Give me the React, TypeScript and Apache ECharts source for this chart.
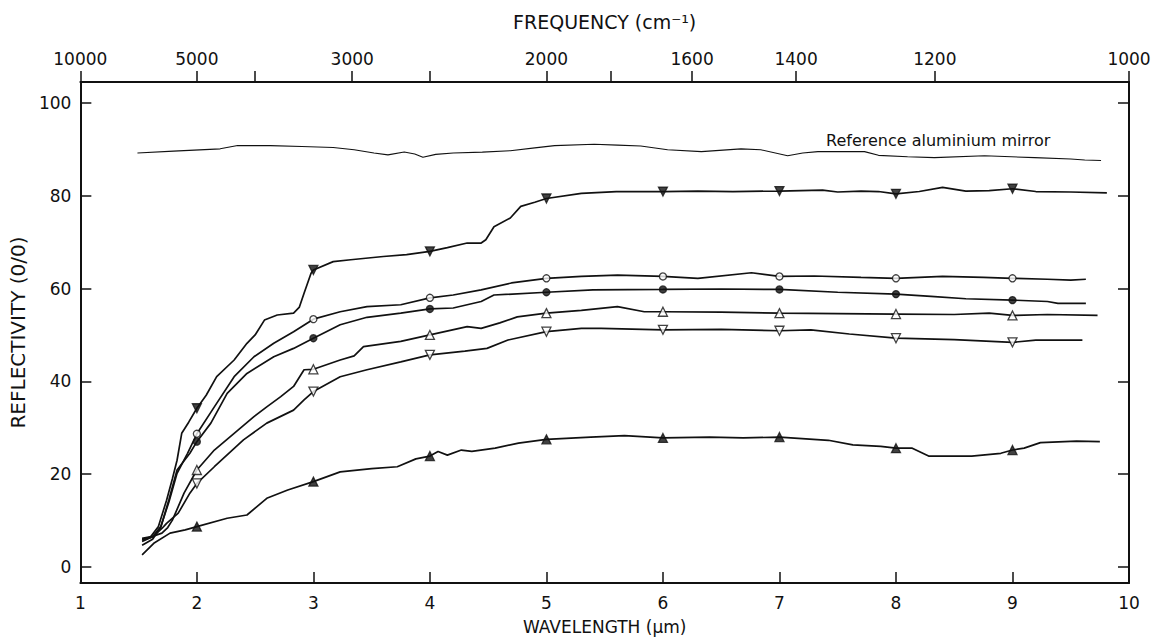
import React, { useEffect, useRef } from "react";
import * as echarts from "echarts";

// Wavelength (µm) vs reflectivity (%)
const mirrorCurve: [number, number][] = [
  [1.49, 89.2], [1.8, 89.6], [2.2, 90.1], [2.35, 90.8], [2.63, 90.8], [2.9, 90.6], [3.17, 90.4],
  [3.35, 89.9], [3.52, 89.2], [3.64, 88.8], [3.78, 89.4], [3.87, 89.0], [3.94, 88.3], [4.05, 88.9],
  [4.2, 89.2], [4.45, 89.4], [4.69, 89.7], [4.9, 90.3], [5.07, 90.8], [5.41, 91.1], [5.61, 90.9],
  [5.81, 90.7], [6.04, 89.9], [6.33, 89.5], [6.67, 90.1], [6.84, 89.9], [7.07, 88.6], [7.2, 89.2],
  [7.33, 89.5], [7.73, 89.5], [7.85, 88.7], [8.1, 88.4], [8.33, 88.2], [8.76, 88.6], [9.19, 88.2],
  [9.5, 87.9], [9.62, 87.7], [9.76, 87.6],
];

const filledDownCurve: [number, number][] = [
  [1.53, 6.0], [1.6, 6.4], [1.67, 8.7], [1.74, 14.4], [1.79, 19], [1.83, 23], [1.87, 28.8], [1.93, 31.2],
  [2, 34.2], [2.08, 37], [2.17, 41], [2.32, 44.6], [2.43, 48.2], [2.5, 50], [2.58, 53.2], [2.69, 54.3],
  [2.83, 54.7], [2.88, 56], [2.92, 59], [2.98, 63.3], [3, 64], [3.17, 65.8], [3.32, 66.2], [3.6, 66.9],
  [3.8, 67.3], [4, 68], [4.15, 68.8], [4.32, 69.8], [4.44, 69.8], [4.48, 70.5], [4.55, 73.3],
  [4.69, 75.2], [4.78, 77.7], [4.9, 78.6], [5, 79.4], [5.3, 80.5], [5.6, 80.9], [6, 80.9], [6.3, 81.0],
  [6.6, 80.9], [7, 81.0], [7.37, 81.2], [7.5, 80.8], [7.7, 81.0], [7.85, 80.9], [8, 80.4], [8.2, 80.9],
  [8.4, 81.8], [8.6, 81.0], [8.8, 81.1], [9, 81.5], [9.2, 80.9], [9.5, 80.8], [9.81, 80.6],
];

const openCircleCurve: [number, number][] = [
  [1.53, 5.5], [1.62, 6.5], [1.69, 8.7], [1.76, 14], [1.83, 20.2], [1.92, 24.5], [2, 28.7], [2.15, 34.5],
  [2.32, 41], [2.49, 45.3], [2.66, 48.2], [2.83, 50.7], [3, 53.4], [3.23, 55], [3.46, 56.1], [3.75, 56.5],
  [4, 58], [4.2, 58.6], [4.44, 59.7], [4.7, 61.2], [5, 62.2], [5.3, 62.6], [5.61, 62.9], [6, 62.6],
  [6.3, 62.2], [6.76, 63.4], [7, 62.6], [7.3, 62.7], [7.7, 62.4], [8, 62.2], [8.4, 62.6], [8.75, 62.4],
  [9, 62.2], [9.3, 62.0], [9.5, 61.8], [9.63, 62.0],
];

const filledCircleCurve: [number, number][] = [
  [1.53, 4.7], [1.62, 6.0], [1.69, 8.5], [1.76, 14.5], [1.83, 20.9], [1.94, 24.5], [2, 27], [2.12, 31],
  [2.26, 37.4], [2.43, 41.7], [2.66, 45.3], [2.83, 47.1], [3, 49.3], [3.23, 52.2], [3.46, 53.8],
  [3.75, 54.7], [4, 55.6], [4.2, 55.8], [4.44, 57.2], [4.55, 58.6], [5, 59.2], [5.4, 59.7], [6, 59.8],
  [6.5, 59.9], [7, 59.8], [7.5, 59.2], [8, 58.8], [8.3, 58.3], [8.6, 57.8], [9, 57.5], [9.3, 57.2],
  [9.39, 56.8], [9.63, 56.8],
];

const openUpCurve: [number, number][] = [
  [1.53, 6.2], [1.62, 6.6], [1.7, 7.3], [1.75, 8.5], [1.79, 10.1], [1.89, 15.9], [2, 20.9], [2.15, 25.2],
  [2.32, 28.8], [2.49, 32.4], [2.6, 34.5], [2.72, 36.7], [2.83, 38.9], [2.92, 42.5], [3, 42.6],
  [3.23, 44.6], [3.35, 45.5], [3.43, 47.5], [3.75, 48.6], [4, 50], [4.32, 51.8], [4.44, 51.4],
  [4.6, 52.6], [4.75, 53.9], [5, 54.7], [5.3, 55.3], [5.61, 56.1], [5.84, 55], [6, 55], [6.5, 54.9],
  [7, 54.7], [7.5, 54.6], [8, 54.5], [8.5, 54.4], [8.8, 54.7], [9, 54.2], [9.3, 54.4], [9.73, 54.2],
];

const openDownCurve: [number, number][] = [
  [1.53, 5.8], [1.62, 6.5], [1.7, 8.3], [1.74, 9.4], [1.84, 11.6], [1.94, 15.9], [2, 18], [2.15, 21.6],
  [2.4, 27.4], [2.6, 31], [2.83, 33.8], [2.92, 36], [3, 37.8], [3.23, 41], [3.46, 42.5], [3.75, 44.2],
  [4, 45.7], [4.3, 46.5], [4.49, 47.1], [4.67, 48.9], [5, 50.7], [5.3, 51.4], [5.47, 51.4], [6, 51.1],
  [6.5, 51.2], [7, 50.9], [7.27, 51.1], [7.6, 50.2], [8, 49.3], [8.5, 49.0], [9, 48.4], [9.2, 48.9],
  [9.6, 48.9],
];

const filledUpCurve: [number, number][] = [
  [1.53, 2.6], [1.63, 5.1], [1.77, 7.3], [1.9, 8.0], [2, 8.7], [2.26, 10.5], [2.43, 11.2], [2.6, 14.8],
  [2.78, 16.6], [3, 18.4], [3.23, 20.5], [3.5, 21.2], [3.72, 21.6], [3.88, 23.3], [4, 23.9], [4.07, 24.9],
  [4.15, 24.1], [4.27, 25.2], [4.36, 24.9], [4.56, 25.6], [4.76, 26.7], [5, 27.5], [5.38, 28.0],
  [5.67, 28.3], [6, 27.8], [6.4, 28.0], [6.69, 27.8], [7, 28.0], [7.42, 27.3], [7.63, 26.3],
  [7.87, 26.0], [8, 25.6], [8.14, 25.6], [8.28, 23.9], [8.65, 23.9], [8.9, 24.5], [9, 25.2],
  [9.1, 25.6], [9.24, 26.8], [9.55, 27.1], [9.75, 27.0],
];

const frequencyTicks = [10000, 5000, 4000, 3000, 2500, 2000, 1800, 1600, 1400, 1200, 1000];
const frequencyLabels = [10000, 5000, 3000, 2000, 1600, 1400, 1200, 1000];
const reflectivityTicks = [0, 20, 40, 60, 80, 100];
const markerWavelengths = [2, 3, 4, 5, 6, 7, 8, 9];

const FONT = "DejaVu Sans";
const INK = "#111";

type CurveDef = {
  name: string;
  data: [number, number][];
  symbol: string;
  rotate: number;
  filled: boolean;
  size: number;
};

const curves: CurveDef[] = [
  { name: "▼", data: filledDownCurve, symbol: "triangle", rotate: 180, filled: true, size: 9 },
  { name: "○", data: openCircleCurve, symbol: "circle", rotate: 0, filled: false, size: 7 },
  { name: "●", data: filledCircleCurve, symbol: "circle", rotate: 0, filled: true, size: 7 },
  { name: "△", data: openUpCurve, symbol: "triangle", rotate: 0, filled: false, size: 9 },
  { name: "▽", data: openDownCurve, symbol: "triangle", rotate: 180, filled: false, size: 9 },
  { name: "▲", data: filledUpCurve, symbol: "triangle", rotate: 0, filled: true, size: 9 },
];

export default function App() {
  const ref = useRef<HTMLDivElement>(null);

  useEffect(() => {
    if (!ref.current) return;
    const chart = echarts.init(ref.current, undefined, { renderer: "svg" });

    const series: any[] = [
      {
        type: "line",
        name: "Reference aluminium mirror",
        data: mirrorCurve,
        showSymbol: false,
        lineStyle: { color: INK, width: 1.1 },
        z: 2,
      },
    ];
    curves.forEach((c) => {
      series.push({
        type: "line",
        name: c.name,
        data: c.data,
        showSymbol: false,
        lineStyle: { color: INK, width: 1.7 },
        z: 2,
      });
      series.push({
        type: "scatter",
        name: c.name + " markers",
        data: c.data.filter(([x]) => markerWavelengths.includes(x)),
        symbol: c.symbol,
        symbolRotate: c.rotate,
        symbolSize: c.size,
        itemStyle: {
          color: c.filled ? INK : "#fff",
          borderColor: INK,
          borderWidth: 1.3,
        },
        z: 3,
      });
    });

    chart.setOption({
      animation: false,
      backgroundColor: "#fff",
      grid: { left: 80, right: 25, top: 82, bottom: 58, containLabel: false },
      xAxis: [
        {
          type: "value",
          position: "bottom",
          min: 1,
          max: 10,
          interval: 1,
          name: "WAVELENGTH (µm)",
          nameLocation: "middle",
          nameGap: 35,
          nameTextStyle: { fontFamily: FONT, fontSize: 17, color: INK },
          axisLine: { show: true, onZero: false, lineStyle: { color: INK, width: 2 } },
          axisTick: { show: true, inside: true, length: 11, lineStyle: { color: INK, width: 1.5 } },
          axisLabel: { fontFamily: FONT, fontSize: 17, color: INK, margin: 11, showMinLabel: true, showMaxLabel: true },
          splitLine: { show: false },
        },
        {
          type: "value",
          position: "top",
          min: 1,
          max: 10,
          name: "FREQUENCY (cm⁻¹)",
          nameLocation: "middle",
          nameGap: 51,
          nameTextStyle: { fontFamily: FONT, fontSize: 19, color: INK },
          axisLine: { show: true, onZero: false, lineStyle: { color: INK, width: 2 } },
          axisTick: {
            show: true,
            inside: false,
            length: 11,
            lineStyle: { color: INK, width: 1.5 },
            customValues: frequencyTicks.map((f) => 10000 / f),
          },
          axisLabel: {
            fontFamily: FONT,
            fontSize: 17,
            color: INK,
            margin: 15,
            customValues: frequencyLabels.map((f) => 10000 / f),
            formatter: (v: number) => String(Math.round(10000 / v)),
          },
          splitLine: { show: false },
        },
      ],
      yAxis: [
        {
          type: "value",
          position: "left",
          min: -3.45,
          max: 104.5,
          name: "REFLECTIVITY (0/0)",
          nameLocation: "middle",
          nameGap: 51,
          nameTextStyle: { fontFamily: FONT, fontSize: 20, color: INK },
          axisLine: { show: true, onZero: false, lineStyle: { color: INK, width: 2 } },
          axisTick: { show: true, inside: true, length: 11, lineStyle: { color: INK, width: 1.5 }, customValues: reflectivityTicks },
          axisLabel: { fontFamily: FONT, fontSize: 17, color: INK, margin: 9, customValues: reflectivityTicks },
          splitLine: { show: false },
        },
        {
          type: "value",
          position: "right",
          min: -3.45,
          max: 104.5,
          axisLine: { show: true, onZero: false, lineStyle: { color: INK, width: 2 } },
          axisTick: { show: true, inside: true, length: 11, lineStyle: { color: INK, width: 1.5 }, customValues: reflectivityTicks },
          axisLabel: { show: false },
          splitLine: { show: false },
        },
      ],
      graphic: [
        {
          type: "text",
          left: 826,
          top: 132,
          style: { text: "Reference aluminium mirror", font: `16px "${FONT}"`, fill: INK },
        },
      ],
      series,
    });

    return () => chart.dispose();
  }, []);

  return (
    <div
      ref={ref}
      style={{ position: "absolute", left: 0, top: 0, width: 1154, height: 641, background: "#fff" }}
    />
  );
}
